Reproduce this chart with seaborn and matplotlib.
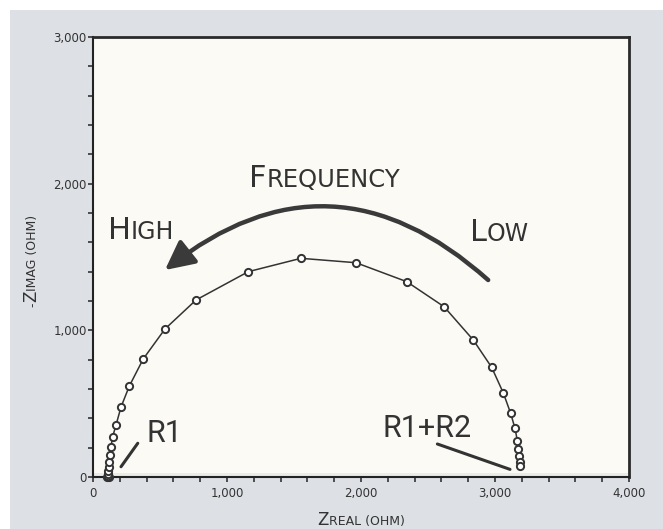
import pandas as pd
import matplotlib.pyplot as plt
import seaborn as sns
from matplotlib import transforms
from matplotlib.patches import Rectangle
from matplotlib.ticker import MultipleLocator, FuncFormatter

# Nyquist data (ohm), high frequency first
zreal_ohm = [108, 116, 112, 110, 113, 114, 117, 122, 127, 134, 146, 172, 209, 271, 375, 537,
             769, 1159, 1552, 1963, 2341, 2620, 2838, 2975, 3062, 3117, 3149, 3167, 3174,
             3179, 3184, 3187]
zimag_ohm = [0, 2, 5, 10, 20, 41, 68, 102, 150, 205, 273, 355, 477, 620, 805, 1009,
             1207, 1400, 1491, 1461, 1332, 1161, 934, 748, 573, 434, 332, 247, 191,
             143, 104, 77]
x_ticks = [0, 1000, 2000, 3000, 4000]
y_ticks = [0, 1000, 2000, 3000]

sns.set_style('ticks')
plt.rcParams['font.family'] = ['DejaVu Sans']
ink = '#333333'

fig = plt.figure(figsize=(6.63, 5.29), dpi=100)
fig.patch.set_facecolor('white')
fig.patches.append(Rectangle((10 / 663, 0), 1, 1 - 10 / 529, transform=fig.transFigure,
                             facecolor='#dde0e5', edgecolor='none', zorder=-1))

ax = fig.add_axes([93 / 663, 1 - 477 / 529, 536 / 663, 440 / 529])
ax.set_facecolor('#fbfaf5')
ax.axhspan(0, 27, color='#ebebe7', lw=0, zorder=0)

df = pd.DataFrame({'zreal': zreal_ohm, 'zimag': zimag_ohm})
sns.lineplot(data=df, x='zreal', y='zimag', sort=False, estimator=None, ax=ax,
             color=ink, lw=1.1, marker='o', markersize=5.2, markerfacecolor='white',
             markeredgecolor=ink, markeredgewidth=1.4, clip_on=False, zorder=5)

ax.set_xlim(0, 4000)
ax.set_ylim(0, 3000)
ax.set_xticks(x_ticks)
ax.set_yticks(y_ticks)
ax.xaxis.set_minor_locator(MultipleLocator(200))
ax.yaxis.set_minor_locator(MultipleLocator(200))
fmt = FuncFormatter(lambda v, p: f'{int(v):,}')
ax.xaxis.set_major_formatter(fmt)
ax.yaxis.set_major_formatter(fmt)
ax.tick_params(which='both', direction='out', length=3.6, width=1.2, color=ink)
ax.tick_params(axis='x', which='major', labelsize=8.5, labelcolor=ink, pad=3.5)
ax.tick_params(axis='y', which='major', labelsize=8.5, labelcolor=ink, pad=0.8)
ax.set_xlabel('')
ax.set_ylabel('')
for side in ['left', 'bottom']:
    ax.spines[side].set_linewidth(1.5)
    ax.spines[side].set_color('#222222')
for side in ['top', 'right']:
    ax.spines[side].set_visible(True)
    ax.spines[side].set_linewidth(2.0)
    ax.spines[side].set_color('#2a2a2a')

renderer = fig.canvas.get_renderer()


def caps_text(x, y, parts, transform, rotation=0, center=False):
    # fake small caps: pieces of text in two sizes set side by side
    widths = []
    for s, size in parts:
        t = fig.text(0, 0, s, fontsize=size)
        widths.append(t.get_window_extent(renderer).width)
        t.remove()
    offset = -sum(widths) / 2 if center else 0
    for (s, size), w in zip(parts, widths):
        dx, dy = (0, offset) if rotation == 90 else (offset, 0)
        tr = transforms.offset_copy(transform, fig=fig, x=dx, y=dy, units='dots')
        fig.text(x, y, s, transform=tr, fontsize=size, color=ink,
                 rotation=rotation, rotation_mode='anchor', ha='left', va='baseline',
                 zorder=6)
        offset += w


# axis labels
caps_text(361 / 663, 1 - 525 / 529, [('Z', 12), ('REAL (OHM)', 9)], fig.transFigure, center=True)
caps_text(36 / 663, 1 - 261 / 529, [('-', 9), ('Z', 12), ('IMAG (OHM)', 9)], fig.transFigure,
          rotation=90, center=True)

# frequency arrow and words
ax.annotate('', xy=(537, 1411), xytext=(2949, 1343),
            arrowprops=dict(arrowstyle='-|>,head_length=0.8,head_width=0.4',
                            connectionstyle='arc3,rad=0.42', lw=3.2, color='#3a3a3a',
                            mutation_scale=22, shrinkA=0, shrinkB=0), zorder=4)
caps_text(1164, 1979, [('F', 22), ('REQUENCY', 17.5)], ax.transData)
caps_text(112, 1623, [('H', 22), ('IGH', 17)], ax.transData)
caps_text(2813, 1611, [('L', 22), ('OW', 17)], ax.transData)

# resistance pointers
ax.text(396, 241, 'R1', fontsize=22, family='Roboto', color=ink, ha='left', va='baseline')
ax.text(2157, 275, 'R1+R2', fontsize=22, family='Roboto', color=ink, ha='left', va='baseline')
ax.annotate('', xy=(209, 70), xytext=(334, 230),
            arrowprops=dict(arrowstyle='-', lw=2.2, color=ink, shrinkA=0, shrinkB=0))
ax.annotate('', xy=(3112, 52), xytext=(2570, 225),
            arrowprops=dict(arrowstyle='-', lw=2.2, color=ink, shrinkA=0, shrinkB=0))

fig.savefig('out.png', dpi=100)
